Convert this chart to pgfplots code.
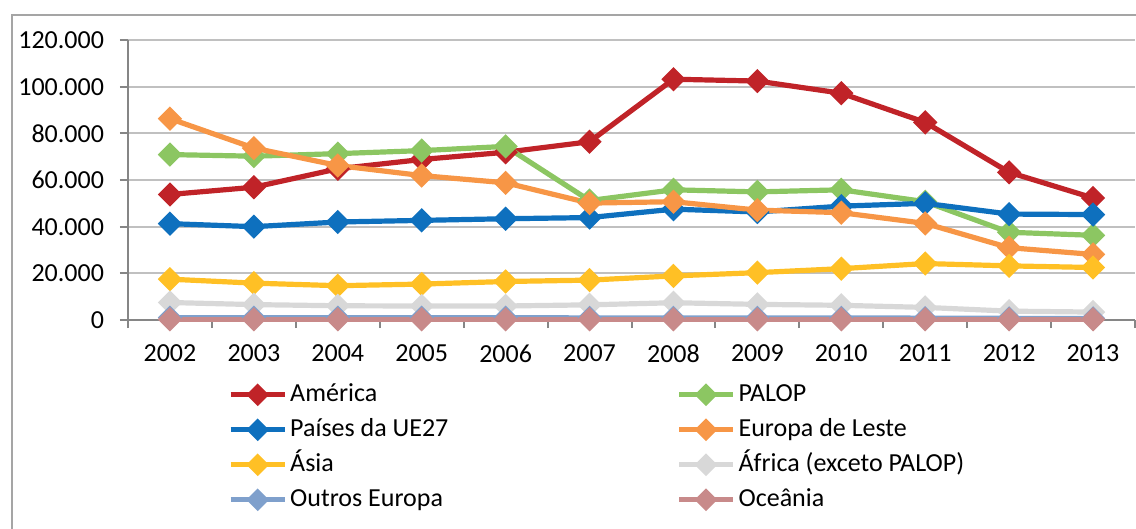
\documentclass[border=0pt]{standalone}
\usepackage{fontspec}
\setmainfont{Carlito}
\usepackage{pgfplots}
\usepackage{pgfplotstable}
\pgfplotsset{compat=1.18}
\definecolor{cAm}{RGB}{192,35,40}
\definecolor{cPA}{RGB}{140,198,98}
\definecolor{cUE}{RGB}{14,112,190}
\definecolor{cLe}{RGB}{247,150,70}
\definecolor{cAs}{RGB}{255,192,37}
\definecolor{cAf}{RGB}{216,216,216}
\definecolor{cOE}{RGB}{127,160,204}
\definecolor{cOc}{RGB}{200,138,138}
\definecolor{axgray}{RGB}{134,134,134}
\definecolor{gridgray}{RGB}{192,192,192}
\definecolor{framegray}{RGB}{165,165,165}
\pgfplotstableread{
x Am PA UE Le As Af OE Oc
0 53800 70900 41300 86300 17500 7500 1000 300
1 56900 70200 40000 73700 15800 6600 1000 300
2 64800 71300 42000 66200 14700 6100 1000 300
3 68800 72600 42700 61900 15400 6000 1000 300
4 71900 74400 43400 58800 16500 6000 1000 300
5 76400 51200 43900 50100 17100 6500 900 300
6 103200 55800 47500 50700 18900 7400 900 300
7 102400 54900 46300 47100 20300 6700 900 300
8 97200 55800 48800 46000 22000 6300 900 300
9 84700 50700 50000 41400 24200 5400 800 300
10 63300 37600 45400 31000 23200 3800 700 300
11 52300 36300 45200 28100 22500 3400 700 300
}\data
\begin{document}
\begin{tikzpicture}
\useasboundingbox (0,0) rectangle (568bp,-264.5bp);
\draw[framegray, line width=1bp] (6bp,-270bp) -- (6bp,-7.5bp) -- (575bp,-7.5bp);
\begin{axis}[
  at={(64bp,-160bp)}, anchor=south west,
  scale only axis, width=503.5bp, height=140bp,
  xmin=-0.5, xmax=11.5, ymin=0, ymax=120000,
  axis lines=left, axis line style={-, draw=axgray, line width=1bp},
  xtick={0,...,11},
  xticklabels={2002,2003,2004,2005,2006,2007,2008,2009,2010,2011,2012,2013},
  minor xtick={-0.5,0.5,...,11.5},
  major x tick style={draw=none},
  minor x tick style={draw=axgray, line width=1bp},
  minor tick length=4bp,
  ytick={0,20000,40000,60000,80000,100000,120000},
  yticklabels={0,20.000,40.000,60.000,80.000,100.000,120.000},
  major y tick style={draw=axgray, line width=1bp},
  major tick length=4bp,
  tick align=outside,
  ymajorgrids, grid style={gridgray, line width=1bp},
  scaled y ticks=false,
  ticklabel style={font=\fontsize{13bp}{15.6bp}\selectfont, text=black},
  xticklabel shift=5bp,
  yticklabel shift=4.5bp,
  clip=false,
  every axis plot/.append style={line width=2.6bp, mark=square*, mark size=3.0bp, mark options={rotate=45, solid}},
  legend columns=2,
  legend cell align=left,
  legend style={draw=none, fill=none, at={(rel axis cs:0.093,-0.189)}, anchor=north west,
    font=\fontsize{13bp}{15.6bp}\selectfont,
    nodes={inner xsep=1.5bp, inner ysep=2bp, text height=10bp, text depth=3.5bp},
    row sep=0bp,
    /tikz/every even column/.append style={column sep=112.5bp}},
  legend image code/.code={\draw[mark repeat=2,mark phase=2,line width=2.6bp,mark size=2.7bp] plot coordinates {(0bp,0bp)(13.5bp,0bp)(27bp,0bp)};},
]
\addplot[color=cAm] table[x=x,y=Am]{\data};
\addlegendentry{América}
\addplot[color=cPA] table[x=x,y=PA]{\data};
\addlegendentry{PALOP}
\addplot[color=cUE] table[x=x,y=UE]{\data};
\addlegendentry{Países da UE27}
\addplot[color=cLe] table[x=x,y=Le]{\data};
\addlegendentry{Europa de Leste}
\addplot[color=cAs] table[x=x,y=As]{\data};
\addlegendentry{Ásia}
\addplot[color=cAf] table[x=x,y=Af]{\data};
\addlegendentry{África (exceto PALOP)}
\addplot[color=cOE] table[x=x,y=OE]{\data};
\addlegendentry{Outros Europa}
\addplot[color=cOc] table[x=x,y=Oc]{\data};
\addlegendentry{Oceânia}
\end{axis}
\end{tikzpicture}
\end{document}
